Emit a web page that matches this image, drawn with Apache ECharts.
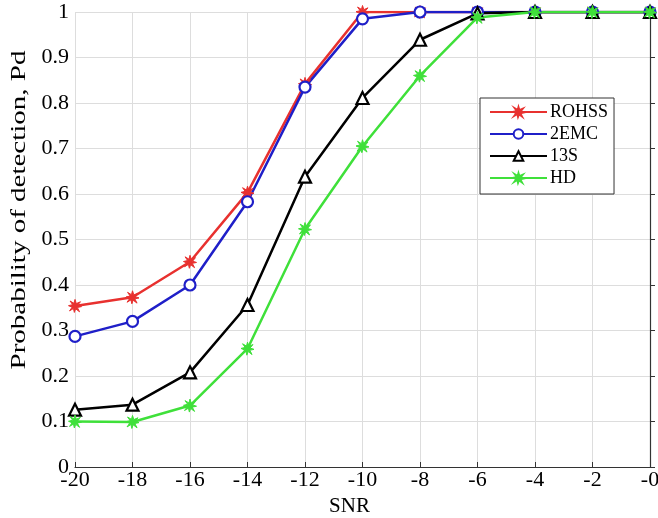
<!DOCTYPE html>
<html>
<head>
<meta charset="utf-8">
<script src="https://cdn.jsdelivr.net/npm/echarts@6/dist/echarts.min.js"></script>
<style>
  html, body { margin: 0; padding: 0; background: #fff; }
  #chart { width: 658px; height: 518px; }
</style>
</head>
<body>
<div id="chart"></div>
<script>
// SNR values (x axis)
const snr = [-20, -18, -16, -14, -12, -10, -8, -6, -4, -2, 0];

// detection probability per method
const rohss = [0.354, 0.373, 0.451, 0.603, 0.842, 1.0, 1.0, 1.0, 1.0, 1.0, 1.0];
const emc2 = [0.287, 0.32, 0.40, 0.583, 0.835, 0.985, 1.0, 1.0, 1.0, 1.0, 1.0];
const s13 = [0.126, 0.137, 0.208, 0.356, 0.638, 0.811, 0.939, 0.997, 1.0, 1.0, 1.0];
const hd = [0.10, 0.099, 0.135, 0.26, 0.523, 0.705, 0.86, 0.988, 1.0, 1.0, 1.0];

const seriesNames = ["ROHSS", "2EMC", "13S", "HD"];

// asterisk-like star marker
const star = "path://M50,0 L60,32 L92,18 L70,45 L100,55 L68,62 L85,95 L55,72 L45,100 L38,70 L8,88 L28,60 L0,48 L32,40 L12,12 L42,30 Z";

const font = "Liberation Serif";

const pairs = (ys) => snr.map((x, i) => [x, ys[i]]);

const chart = echarts.init(document.getElementById("chart"));

const mkSeries = (name, ys, color, symbol, size, hollow) => ({
  name: name,
  type: "line",
  data: pairs(ys),
  symbol: symbol,
  symbolSize: size,
  showSymbol: true,
  lineStyle: { color: color, width: 2.5 },
  itemStyle: hollow
    ? { color: "#fff", borderColor: color, borderWidth: 2.2 }
    : { color: color, borderColor: color, borderWidth: 1 },
  emphasis: { disabled: true },
  z: 3
});

chart.setOption({
  animation: false,
  backgroundColor: "#fff",
  grid: { left: 75, right: 8, top: 12, bottom: 51, outerBoundsMode: "none" },
  // y title is stretched along its length like in the source image
  graphic: [{
    type: "text",
    x: 20,
    y: 210,
    rotation: Math.PI / 2,
    scaleX: 1.45,
    style: {
      text: "Probability of detection, Pd",
      fontFamily: font,
      fontSize: 20,
      fill: "#000",
      textAlign: "center",
      textVerticalAlign: "middle"
    }
  }],
  legend: {
    data: seriesNames,
    orient: "vertical",
    left: 480,
    top: 98,
    itemWidth: 57,
    itemHeight: 12,
    itemGap: 4,
    padding: [5, 6, 7, 9],
    borderColor: "#333",
    borderWidth: 1,
    borderRadius: 0,
    backgroundColor: "#fff",
    textStyle: { fontFamily: font, fontSize: 18, color: "#000", padding: [0, 0, 0, -2] }
  },
  xAxis: {
    type: "value",
    min: -20,
    max: 0,
    interval: 2,
    name: "SNR",
    nameLocation: "middle",
    nameGap: 29,
    nameTextStyle: { fontFamily: font, fontSize: 21, color: "#000", padding: [0, 26, 0, 0] },
    axisLine: { lineStyle: { color: "#333", width: 1.2 } },
    axisTick: { inside: true, length: 5, lineStyle: { color: "#333" } },
    axisLabel: {
      fontFamily: font, fontSize: 22, color: "#000", margin: 2,
      formatter: (v) => (v === 0 ? "-0" : String(v))
    },
    splitLine: { show: true, lineStyle: { color: "#ddd", width: 1 } }
  },
  yAxis: {
    type: "value",
    min: 0,
    max: 1,
    interval: 0.1,
    axisLine: { show: true, lineStyle: { color: "#333", width: 1.2 } },
    axisTick: { show: true, inside: true, length: 5, lineStyle: { color: "#333" } },
    axisLabel: {
      fontFamily: font, fontSize: 22, color: "#000", margin: 6,
      formatter: (v) => String(Math.round(v * 10) / 10)
    },
    splitLine: { show: true, lineStyle: { color: "#ddd", width: 1 } }
  },
  series: [
    mkSeries("ROHSS", rohss, "#e8312f", star, 13, false),
    mkSeries("2EMC", emc2, "#1f1fc8", "circle", 11, true),
    mkSeries("13S", s13, "#000000", "triangle", 12, true),
    mkSeries("HD", hd, "#3fe03a", star, 13, false)
  ]
});
</script>
</body>
</html>
